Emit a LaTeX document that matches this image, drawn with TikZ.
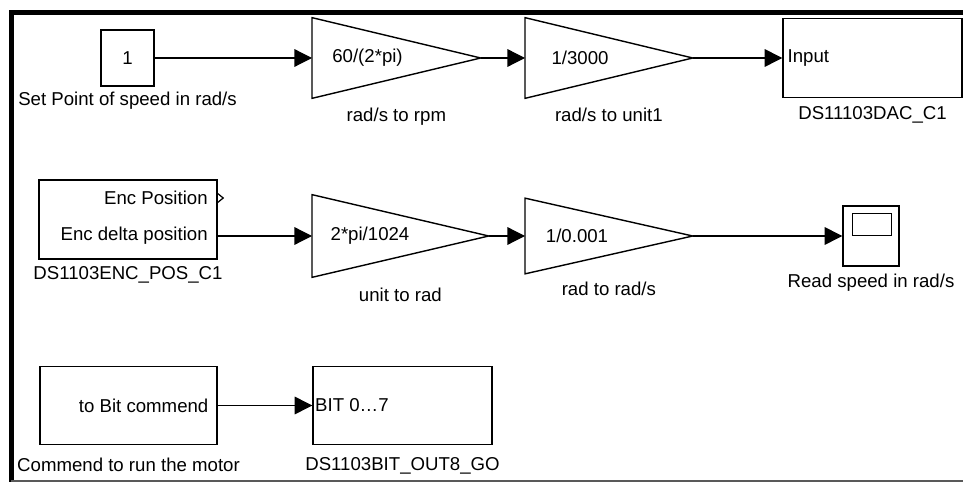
\documentclass[tikz,border=0pt]{standalone}
\usepackage{fontspec}
\setmainfont{Liberation Sans}
\usetikzlibrary{arrows.meta,positioning}

\begin{document}
\begin{tikzpicture}[
    font=\fontsize{10.6}{12}\selectfont,
    blk/.style={draw, line width=0.8pt, inner sep=0pt},
    gain/.style={inner sep=0pt, anchor=west},
    port/.style={inner sep=0pt},
    lbl/.style={inner sep=0pt, anchor=north},
    sig/.style={-{Triangle[length=10pt,width=10pt]}, line width=0.7pt}
]
    \useasboundingbox (0,0) rectangle (19.26,9.64);
    % Draw Frame
    \draw[line width=2.8pt] (19.26,9.39) -- (0.23,9.39) -- (0.23,0);
    \draw[line width=0.8pt, black!65] (0.23,0.02) -- (19.26,0.02);

    % Set point chain
    \node[blk, minimum width=1.06cm, minimum height=1.12cm] (sp) at (2.55,8.48) {1};
    \node[gain, minimum width=3.36cm, minimum height=1.6cm] (g1) at (6.24,8.48) {};
    \node[gain, minimum width=3.34cm, minimum height=1.6cm] (g2) at (10.5,8.48) {};
    \node[blk, minimum width=3.58cm, minimum height=1.58cm] (dac) at (17.45,8.48) {};
    \node[port, anchor=west] (dacin) at ([xshift=0.1cm]dac.west) {Input};

    % Encoder chain
    \node[blk, minimum width=3.56cm, minimum height=1.58cm] (enc) at (2.56,5.25) {};
    \node[port, anchor=east] (encp) at (4.16,5.68) {Enc Position};
    \node[port, anchor=east] (encd) at (4.16,4.92) {Enc delta position};
    \node[gain, minimum width=3.52cm, minimum height=1.64cm] (g3) at (6.24,4.92) {};
    \node[gain, minimum width=3.34cm, minimum height=1.5cm] (g4) at (10.5,4.92) {};
    \node[blk, minimum width=1.12cm, minimum height=1.2cm] (scope) at (17.42,4.92) {};
    \draw[line width=0.8pt] ([xshift=0.2cm,yshift=-0.16cm]scope.north west) rectangle +(0.78,-0.44);

    % Motor command
    \node[blk, minimum width=3.54cm, minimum height=1.56cm] (cmd) at (2.57,1.53) {};
    \node[port, anchor=east] (cmdtxt) at ([xshift=-0.18cm]cmd.east) {to Bit commend};
    \node[blk, minimum width=3.58cm, minimum height=1.56cm] (bit) at (8.05,1.53) {};
    \node[port, anchor=west] (bittxt) at ([xshift=0.05cm]bit.west) {BIT 0…7};

    % Gain triangles and values
    \foreach \g in {g1,g2,g3,g4}
        \draw[line width=0.8pt] (\g.north west) -- (\g.east) -- (\g.south west) -- cycle;
    \node[port] (g1txt) at ([xshift=1.11cm]g1.west) {60/(2*pi)};
    \node[port] (g2txt) at ([xshift=1.1cm]g2.west) {1/3000};
    \node[port] (g3txt) at ([xshift=1.16cm]g3.west) {2*pi/1024};
    \node[port] (g4txt) at ([xshift=1.04cm]g4.west) {1/0.001};

    % Block names
    \node[lbl, below=0.1cm of sp] (splbl) {Set Point of speed in rad/s};
    \node[lbl, below=0.18cm of g1] (g1lbl) {rad/s to rpm};
    \node[lbl, below=0.18cm of g2] (g2lbl) {rad/s to unit1};
    \node[lbl, below=0.16cm of dac] (daclbl) {DS11103DAC\_C1};
    \node[lbl, below=0.12cm of enc] (enclbl) {DS1103ENC\_POS\_C1};
    \node[lbl, below=0.2cm of g3] (g3lbl) {unit to rad};
    \node[lbl, below=0.16cm of g4] (g4lbl) {rad to rad/s};
    \node[lbl, below=0.14cm of scope] (scopelbl) {Read speed in rad/s};
    \node[lbl, below=0.24cm of cmd] (cmdlbl) {Commend to run the motor};
    \node[lbl, below=0.24cm of bit] (bitlbl) {DS1103BIT\_OUT8\_GO};

    % Signals
    \draw[sig] (sp.east) -- (g1.west);
    \draw[sig] (g1.east) -- (g2.west);
    \draw[sig] (g2.east) -- (dac.west);
    \draw[line width=0.7pt] (encp.east -| enc.east) ++(0,0.09) -- ++(0.11,-0.09) -- ++(-0.11,-0.09);
    \draw[sig] (encd -| enc.east) -- (g3.west);
    \draw[sig] (g3.east) -- (g4.west);
    \draw[sig] (g4.east) -- (scope.west);
    \draw[sig] (cmd.east) -- (bit.west);
\end{tikzpicture}
\end{document}
